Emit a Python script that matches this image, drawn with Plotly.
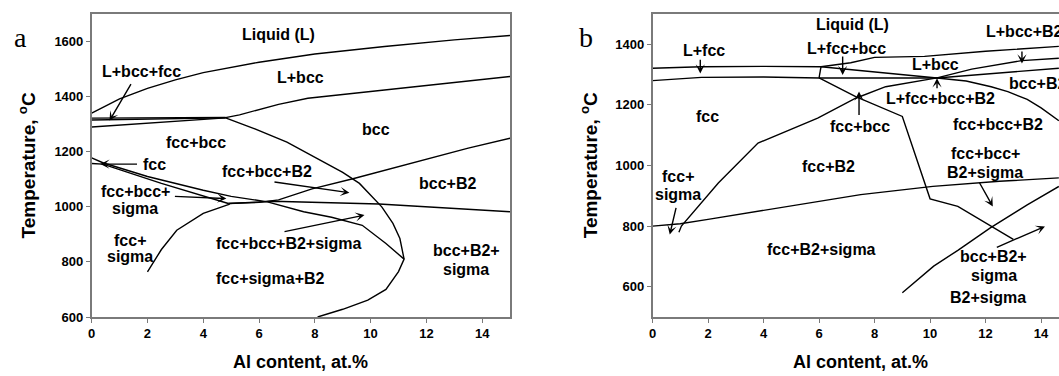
import plotly.graph_objects as go

# ---------------- Panel a: phase boundaries (Al content at.%, temperature C) ----------------
a_liquidus_x = [0, 1, 2, 3, 4, 5, 6, 8, 10.5, 13, 15]
a_liquidus_t = [1340, 1392, 1430, 1461, 1487, 1507, 1525, 1555, 1582, 1606, 1622]

a_bcc_sol_x = [0, 2.5, 4.8, 5.3, 5.85, 6.7, 7.75, 10.5, 13, 15]
a_bcc_sol_t = [1322, 1323, 1324, 1334, 1350, 1372, 1394, 1425, 1452, 1473]

a_lbf_x = [0, 2.5, 4.8]
a_lbf_t = [1315, 1318, 1323]

a_fcc_sol_x = [0, 2.4, 4.8]
a_fcc_sol_t = [1290, 1306, 1323]

a_bcc_solvus_x = [4.8, 5.8, 7.0, 8.0, 9.0, 9.6, 10.07, 10.4, 10.8, 11.05, 11.2, 11.0, 10.55, 9.9, 9.0, 8.1]
a_bcc_solvus_t = [1323, 1285, 1235, 1180, 1125, 1085, 1036, 1000, 940, 885, 810, 765, 700, 661, 628, 600]

a_fcc_upper_x = [0, 0.4, 2.0, 4.0, 5.0, 6.3, 7.6, 8.6, 9.7, 10.55, 11.2]
a_fcc_upper_t = [1178, 1160, 1110, 1060, 1038, 1018, 982, 962, 933, 867, 810]

a_fcc_lower_x = [0, 0.4, 2.5, 4.9]
a_fcc_lower_t = [1157, 1155, 1085, 1012]

a_h_x = [4.9, 6.5, 10.3, 15]
a_h_t = [1012, 1020, 1010, 982]

a_b2_x = [4.9, 6.0, 6.7, 7.9, 9.4, 10.5, 11.9, 13.5, 15]
a_b2_t = [1012, 1016, 1025, 1065, 1103, 1133, 1172, 1213, 1249]

a_sigma_x = [2.0, 2.5, 3.05, 4.0, 4.95]
a_sigma_t = [764, 845, 915, 976, 1010]

# ---------------- Panel b ----------------
b_liq_fcc_x = [0, 1.76, 4.0, 6.07]
b_liq_fcc_t = [1321, 1326, 1327, 1326]

b_liq_bcc_x = [6.07, 7.14, 8.0, 9.8, 12.0, 14.64]
b_liq_bcc_t = [1326, 1339, 1357, 1360, 1377, 1393]

b_lfb_x = [6.07, 10.25]
b_lfb_t = [1326, 1289]

b_fcc_sol_x = [0, 1.76, 4.0, 6.0, 8.0, 10.25]
b_fcc_sol_t = [1280, 1291, 1292, 1289, 1289, 1289]

b_vert_x = [6.0, 6.07]
b_vert_t = [1289, 1326]

b_steep_x = [6.0, 7.32, 9.0, 10.0, 11.0, 13.0]
b_steep_t = [1289, 1227, 1162, 890, 865, 756]

b_rise_x = [0.95, 1.04, 2.37, 3.8, 5.95, 7.32, 8.4, 10.25]
b_rise_t = [780, 800, 942, 1074, 1156, 1222, 1260, 1289]

b_a_x = [10.25, 11.5, 13.3, 14.64]
b_a_t = [1289, 1318, 1346, 1354]

b_b_x = [10.25, 12.5, 14.64]
b_b_t = [1289, 1306, 1321]

b_curve_x = [10.25, 11.3, 12.2, 12.8, 13.5, 14.0, 14.64]
b_curve_t = [1289, 1279, 1260, 1244, 1218, 1190, 1148]

b_sig_x = [0, 1, 2, 3.5, 5.35, 7.5, 10.1, 12.5, 14.64]
b_sig_t = [800, 808, 822, 844, 871, 904, 931, 948, 959]

b_b2s_x = [9.0, 10.13, 11.0, 12.17, 13.5, 14.64]
b_b2s_t = [580, 668, 720, 794, 870, 931]

# ---------------- labels ----------------
a_labels = [
    ("Liquid (L)", 6.71, 1624), ("L+bcc", 7.5, 1468), ("bcc", 10.18, 1279),
    ("L+bcc+fcc", 1.79, 1490), ("fcc+bcc", 3.75, 1233), ("fcc", 2.27, 1155),
    ("fcc+bcc+", 1.56, 1055), ("sigma", 1.56, 994), ("fcc+", 1.38, 879), ("sigma", 1.38, 820),
    ("fcc+bcc+B2", 6.29, 1130), ("bcc+B2", 12.75, 1085), ("fcc+bcc+B2+sigma", 7.06, 867),
    ("fcc+sigma+B2", 6.41, 740), ("bcc+B2+", 13.43, 842), ("sigma", 13.43, 772),
]
a_arrows = [  # tail x, tail t, tip x, tip t
    (1.44, 1451, 0.64, 1313), (1.68, 1155, 0.31, 1155), (2.93, 1038, 4.83, 1030),
    (6.5, 1091, 9.24, 1051), (6.86, 909, 9.78, 970),
]
b_labels = [
    ("Liquid (L)", 7.2, 1467, "center"), ("L+fcc", 1.85, 1379, "center"),
    ("L+fcc+bcc", 7.0, 1387, "center"), ("L+bcc+B2", 11.93, 1441, "left"),
    ("L+bcc", 10.19, 1332, "center"), ("bcc+B2", 12.77, 1272, "left"),
    ("L+fcc+bcc+B2", 10.37, 1222, "center"), ("fcc", 1.97, 1162, "center"),
    ("fcc+bcc", 7.47, 1129, "center"), ("fcc+bcc+B2", 12.44, 1134, "center"),
    ("fcc+B2", 6.35, 997, "center"), ("fcc+bcc+", 11.99, 1041, "center"),
    ("B2+sigma", 11.99, 977, "center"), ("fcc+", 0.92, 964, "center"),
    ("sigma", 0.92, 904, "center"), ("fcc+B2+sigma", 6.08, 723, "center"),
    ("bcc+B2+", 12.29, 701, "center"), ("sigma", 12.29, 637, "center"),
    ("B2+sigma", 12.08, 564, "center"),
]
b_arrows = [
    (1.72, 1354, 1.72, 1304), (6.85, 1365, 6.85, 1299), (13.31, 1381, 13.31, 1337),
    (10.25, 1250, 10.25, 1288), (7.44, 1162, 7.44, 1244), (11.75, 948, 12.26, 865),
    (0.86, 865, 0.62, 772), (12.35, 728, 14.14, 799),
]

a_xticks = [0, 2, 4, 6, 8, 10, 12, 14]
a_yticks = [600, 800, 1000, 1200, 1400, 1600]
b_xticks = [0, 2, 4, 6, 8, 10, 12, 14]
b_yticks = [600, 800, 1000, 1200, 1400]

FONT = "Liberation Sans, Arial, sans-serif"
LINE = dict(color="black", width=1.4)
AX = "#7a7a7a"

fig = go.Figure()

a_lines = [(a_liquidus_x, a_liquidus_t), (a_bcc_sol_x, a_bcc_sol_t), (a_lbf_x, a_lbf_t),
           (a_fcc_sol_x, a_fcc_sol_t), (a_bcc_solvus_x, a_bcc_solvus_t),
           (a_fcc_upper_x, a_fcc_upper_t), (a_fcc_lower_x, a_fcc_lower_t),
           (a_h_x, a_h_t), (a_b2_x, a_b2_t), (a_sigma_x, a_sigma_t)]
for xs, ts in a_lines:
    fig.add_trace(go.Scatter(x=xs, y=ts, mode="lines", line=LINE, xaxis="x", yaxis="y",
                             showlegend=False, hoverinfo="skip"))

b_lines = [(b_liq_fcc_x, b_liq_fcc_t), (b_liq_bcc_x, b_liq_bcc_t), (b_lfb_x, b_lfb_t),
           (b_fcc_sol_x, b_fcc_sol_t), (b_vert_x, b_vert_t), (b_steep_x, b_steep_t),
           (b_rise_x, b_rise_t), (b_a_x, b_a_t), (b_b_x, b_b_t), (b_curve_x, b_curve_t),
           (b_sig_x, b_sig_t), (b_b2s_x, b_b2s_t)]
for xs, ts in b_lines:
    fig.add_trace(go.Scatter(x=xs, y=ts, mode="lines", line=LINE, xaxis="x2", yaxis="y2",
                             showlegend=False, hoverinfo="skip"))

lab_font = dict(family=FONT, size=16, color="black", weight="bold")
ann = []
for txt, x, t in a_labels:
    ann.append(dict(text=txt, x=x, y=t, xref="x", yref="y", showarrow=False, font=lab_font,
                    xanchor="center", yanchor="middle"))
for txt, x, t, anc in b_labels:
    ann.append(dict(text=txt, x=x, y=t, xref="x2", yref="y2", showarrow=False, font=lab_font,
                    xanchor=anc, yanchor="middle"))
for (tx, tt, hx, ht) in a_arrows:
    ann.append(dict(text="", x=hx, y=ht, ax=tx, ay=tt, xref="x", yref="y", axref="x", ayref="y",
                    showarrow=True, arrowhead=3, arrowsize=1.1, arrowwidth=1.4, arrowcolor="black"))
for (tx, tt, hx, ht) in b_arrows:
    ann.append(dict(text="", x=hx, y=ht, ax=tx, ay=tt, xref="x2", yref="y2", axref="x2", ayref="y2",
                    showarrow=True, arrowhead=3, arrowsize=1.1, arrowwidth=1.4, arrowcolor="black"))

title_font = dict(family=FONT, size=18, color="black", weight="bold")
ytitle_font = dict(family=FONT, size=19, color="black", weight="bold")
serif = dict(family="Liberation Serif, Times New Roman, serif", size=28, color="black")
P = dict(xref="paper", yref="paper", showarrow=False, xanchor="center", yanchor="middle")
ann += [
    dict(text="Al content, at.%", x=298 / 1059, y=-0.150, font=title_font, **P),
    dict(text="Al content, at.%", x=860 / 1059, y=-0.150, font=title_font, **P),
    dict(text="Temperature, <sup>o</sup>C", x=23 / 1059, y=0.5, font=ytitle_font, textangle=-90, **P),
    dict(text="Temperature, <sup>o</sup>C", x=587 / 1059, y=0.5, font=ytitle_font, textangle=-90, **P),
    dict(text="a", x=17 / 1059, y=(317 - 37) / 303, font=serif, **P),
    dict(text="b", x=584 / 1059, y=(317 - 37) / 303, font=serif, **P),
]

tick_font = dict(family=FONT, size=13, color="black", weight="bold")
common = dict(showgrid=False, zeroline=False, showline=True, linecolor=AX, linewidth=1.5,
              ticks="outside", ticklen=4, tickcolor=AX, tickwidth=1.2, tickfont=tick_font)

fig.update_layout(
    width=1059, height=376,
    margin=dict(l=0, r=0, t=14, b=59),
    paper_bgcolor="white", plot_bgcolor="white",
    xaxis=dict(domain=[88 / 1059, 508 / 1059], range=[0, 15], tickvals=a_xticks, mirror=True,
               anchor="y", **common),
    yaxis=dict(domain=[0, 1], range=[600, 1700], tickvals=a_yticks, mirror=True, anchor="x", **common),
    xaxis2=dict(domain=[651 / 1059, 1.0], range=[0, 14.645], tickvals=b_xticks, mirror=True,
                anchor="y2", **common),
    yaxis2=dict(domain=[0, 1], range=[500, 1500], tickvals=b_yticks, mirror=False, anchor="x2", **common),
    annotations=ann,
    showlegend=False,
)

fig.write_html("out.html")
